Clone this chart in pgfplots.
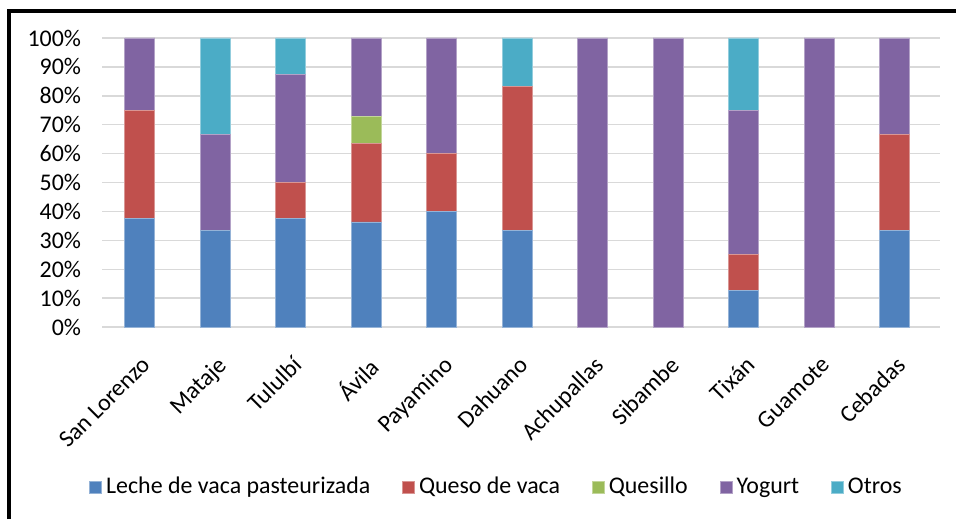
\documentclass[border=0pt]{standalone}
\usepackage{pgfplots}
\pgfplotsset{compat=1.18}
\usepackage{fontspec}
\setmainfont{Carlito}
\definecolor{cA}{HTML}{4F81BD}
\definecolor{cB}{HTML}{C0504D}
\definecolor{cC}{HTML}{9BBB59}
\definecolor{cD}{HTML}{8064A2}
\definecolor{cE}{HTML}{4BACC6}
\begin{document}
\begin{tikzpicture}[x=1bp,y=1bp]
\path[use as bounding box] (0,0) rectangle (478,259.5);
\draw[line width=1.8bp] (4.5,0) -- (4.5,254) -- (478,254);
\begin{axis}[
  at={(51bp,96bp)}, anchor=south west,
  scale only axis, width=419bp, height=144.5bp,
  ybar stacked, bar width=15bp,
  xmin=-0.5, xmax=10.6, ymin=0, ymax=100,
  axis line style={draw=none},
  tick style={draw=none},
  ymajorgrids, grid style={draw=black!15, line width=0.7bp},
  ytick={0,10,...,100},
  yticklabel={\pgfmathprintnumber{\tick}\%},
  /pgf/number format/assume math mode=true,
  yticklabel style={font=\fontsize{12}{14}\selectfont, xshift=-7bp},
  xtick={0,...,10},
  xticklabels={San Lorenzo,Mataje,Tululbí,Ávila,Payamino,Dahuano,Achupallas,Sibambe,Tixán,Guamote,Cebadas},
  xticklabel style={font=\fontsize{12}{14}\selectfont, rotate=45, anchor=north east, inner sep=1bp, xshift=-8.5bp, yshift=-9bp},
  every axis plot post/.append style={legend image code/.code={\fill[##1] (0bp,-3bp) rectangle (6bp,3bp);}},
  legend style={at={(0.472,-0.554)}, anchor=center, draw=none, fill=none,
    legend columns=-1, font=\fontsize{12}{14}\selectfont,
    /tikz/every even column/.append style={column sep=14bp},
    legend cell align=left},
]
\addplot[fill=cA, draw=cA!60!white, line width=0.4bp] coordinates {(0,37.5)(1,33.33)(2,37.5)(3,36.36)(4,40)(5,33.33)(6,0)(7,0)(8,12.5)(9,0)(10,33.33)};
\addplot[fill=cB, draw=cB!60!white, line width=0.4bp] coordinates {(0,37.5)(1,0)(2,12.5)(3,27.27)(4,20)(5,50)(6,0)(7,0)(8,12.5)(9,0)(10,33.33)};
\addplot[fill=cC, draw=cC!60!white, line width=0.4bp] coordinates {(0,0)(1,0)(2,0)(3,9.09)(4,0)(5,0)(6,0)(7,0)(8,0)(9,0)(10,0)};
\addplot[fill=cD, draw=cD!60!white, line width=0.4bp] coordinates {(0,25)(1,33.33)(2,37.5)(3,27.28)(4,40)(5,0)(6,100)(7,100)(8,50)(9,100)(10,33.34)};
\addplot[fill=cE, draw=cE!60!white, line width=0.4bp] coordinates {(0,0)(1,33.34)(2,12.5)(3,0)(4,0)(5,16.67)(6,0)(7,0)(8,25)(9,0)(10,0)};
\legend{Leche de vaca pasteurizada,Queso de vaca,Quesillo,Yogurt,Otros}
\end{axis}
\end{tikzpicture}
\end{document}
